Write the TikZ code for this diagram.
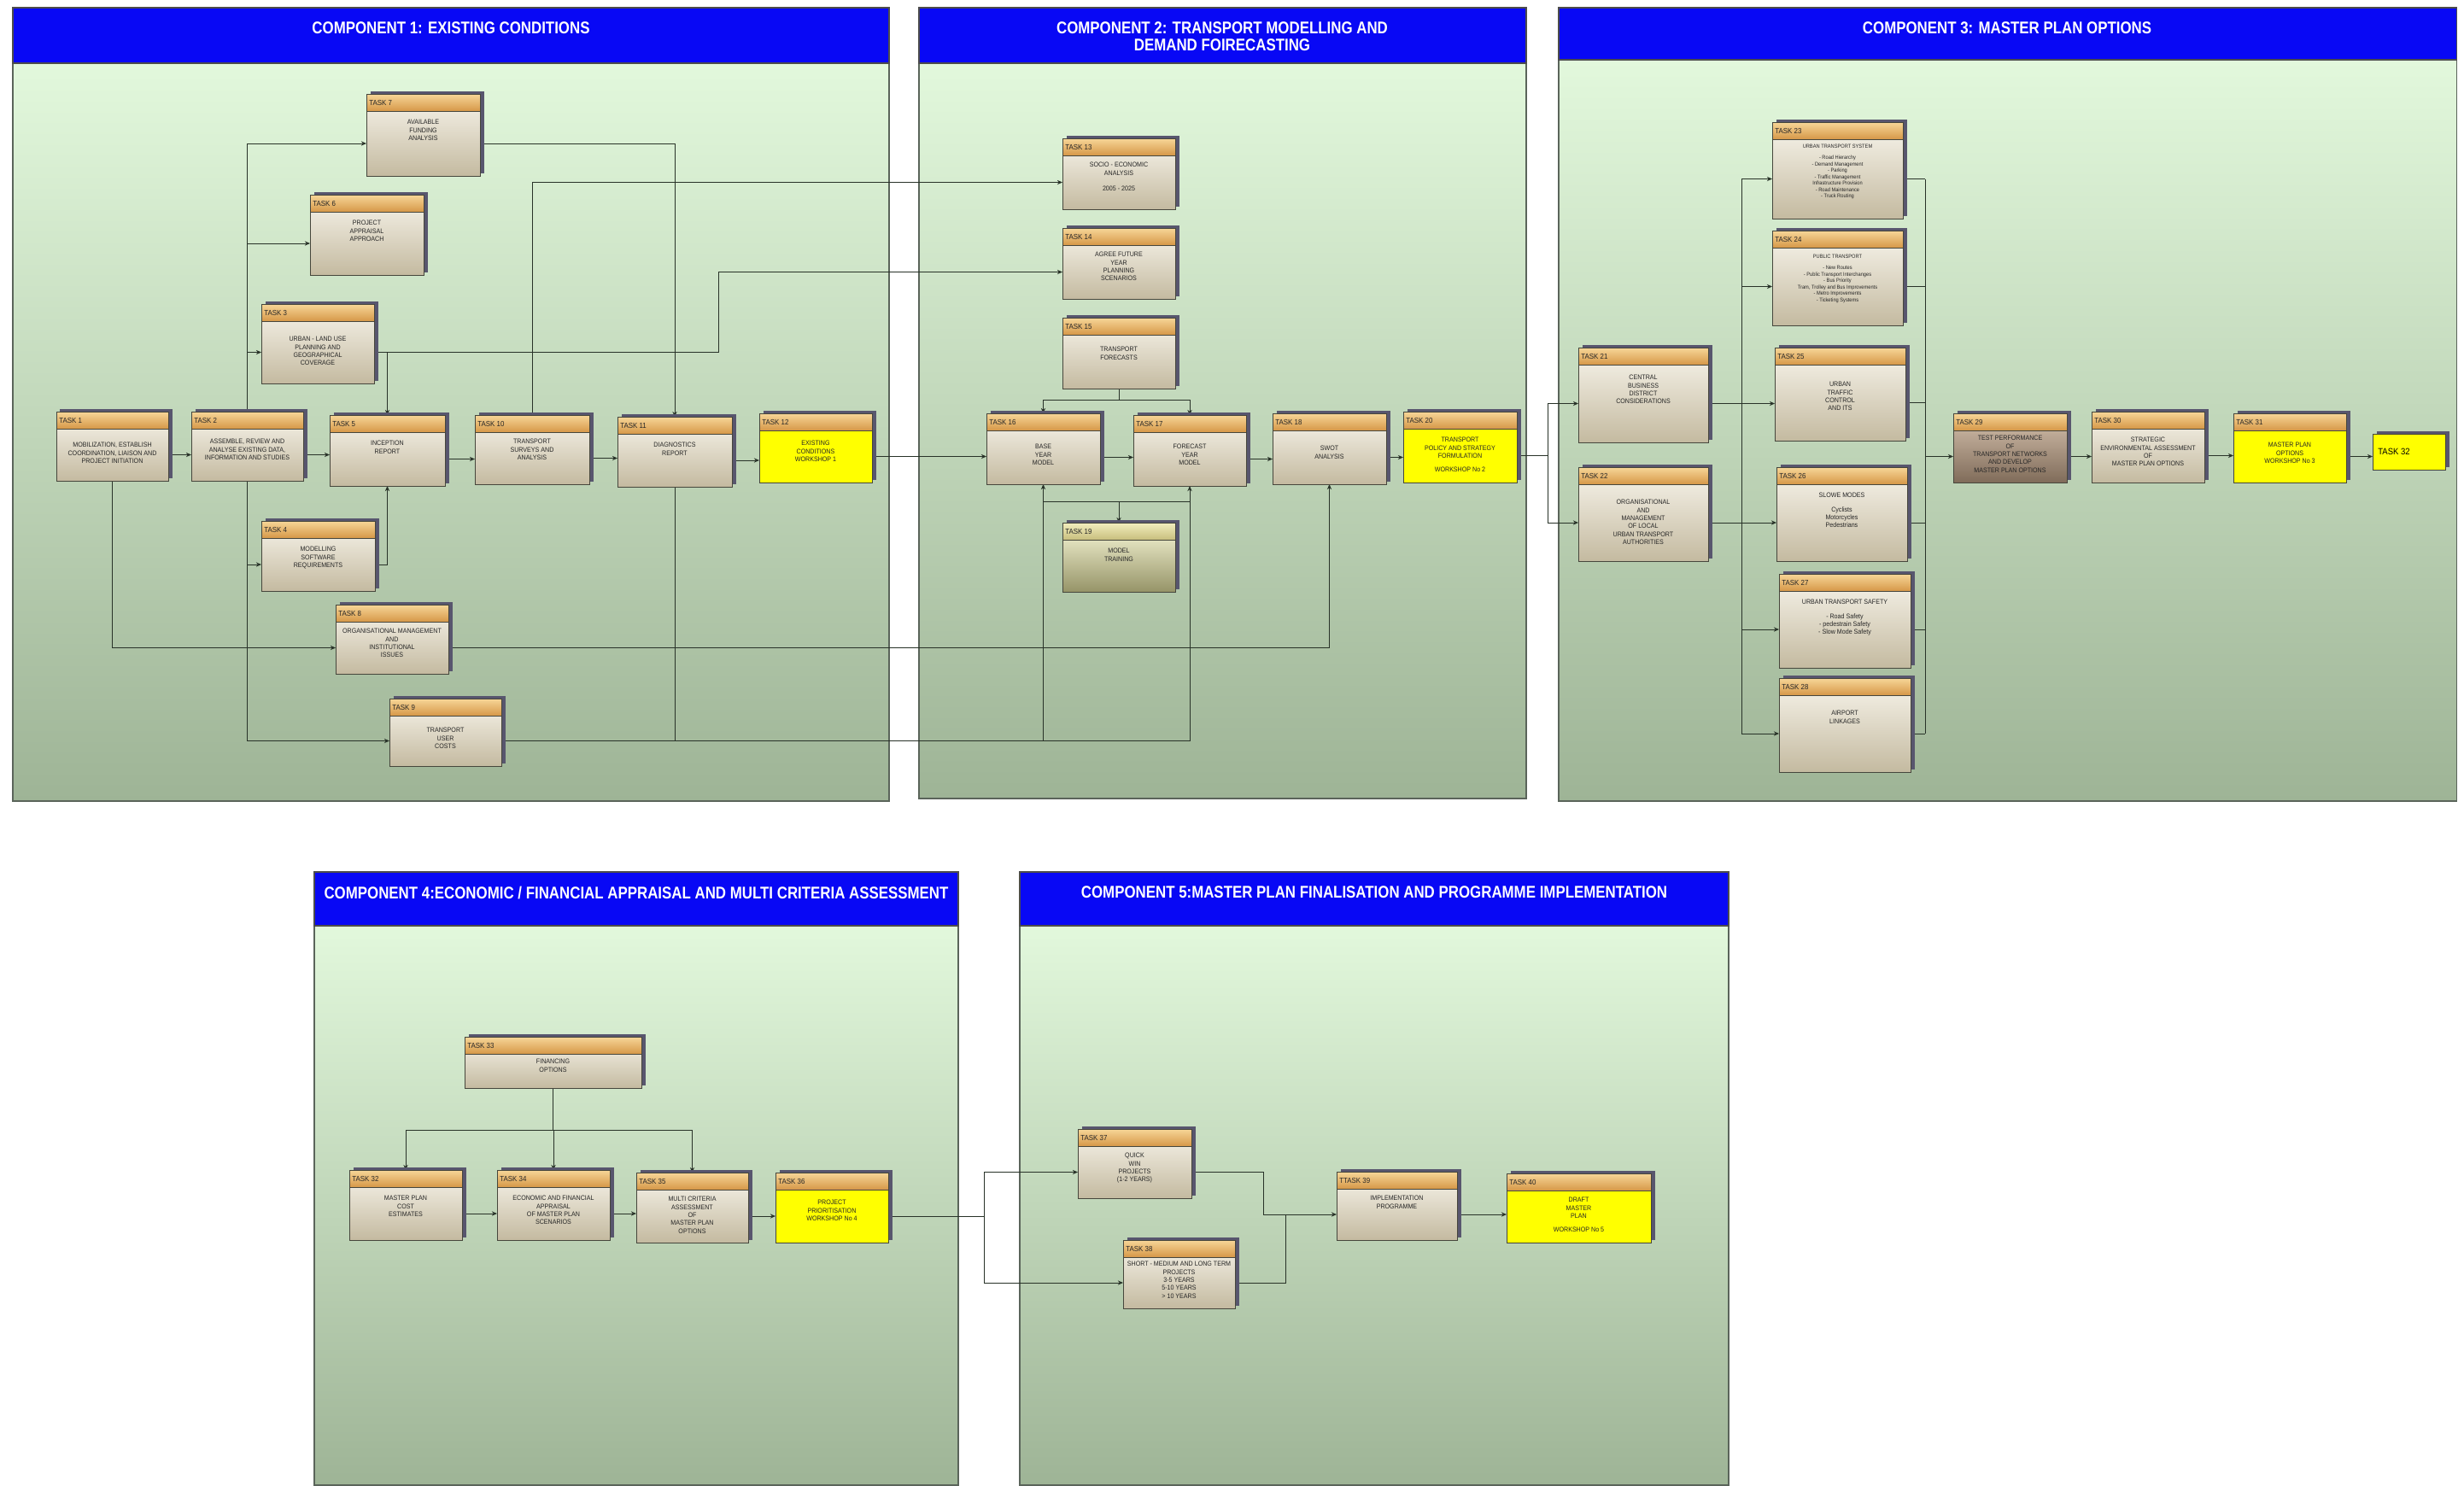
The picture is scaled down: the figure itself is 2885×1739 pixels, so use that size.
\documentclass[tikz,border=0pt]{standalone}
\usepackage{fontspec}
\setmainfont{Liberation Sans}
\newfontfamily\hfont{Liberation Sans}[FakeStretch=0.85]
\newfontfamily\tfont{Liberation Sans}[FakeStretch=0.9]
\usetikzlibrary{shadows,arrows.meta,calc}
\pgfdeclarelayer{panel}
\pgfdeclarelayer{lines}
\pgfsetlayers{panel,lines,main}
\definecolor{hblue}{RGB}{8,8,245}
\definecolor{pantop}{RGB}{226,248,220}
\definecolor{panbot}{RGB}{158,180,150}
\definecolor{pedge}{RGB}{90,100,90}
\definecolor{hdrtop}{RGB}{247,214,152}
\definecolor{hdrbot}{RGB}{214,152,72}
\definecolor{bodtop}{RGB}{248,245,236}
\definecolor{bodbot}{RGB}{196,186,160}
\definecolor{shad}{RGB}{88,86,110}
\definecolor{boxc}{RGB}{70,70,60}
\definecolor{wire}{RGB}{40,50,40}
\definecolor{ylw}{RGB}{255,255,0}
\definecolor{brtop}{RGB}{214,194,174}
\definecolor{brbot}{RGB}{128,108,90}
\definecolor{oltop}{RGB}{250,250,218}
\definecolor{olbot}{RGB}{150,148,104}
\definecolor{olhtop}{RGB}{242,238,190}
\definecolor{olhbot}{RGB}{200,190,125}
\tikzset{
  btop/.store in=\btopc, bbot/.store in=\bbotc,
  htop/.store in=\htopc, hbot/.store in=\hbotc,
  txtfont/.store in=\txtfont,
  btop=bodtop, bbot=bodbot, htop=hdrtop, hbot=hdrbot,
  txtfont={\tfont\fontsize{4.5}{5.3}\selectfont},
  yellowbox/.style={btop=ylw, bbot=ylw},
  brownbox/.style={btop=brtop, bbot=brbot},
  olivebox/.style={btop=oltop, bbot=olbot, htop=olhtop, hbot=olhbot},
  smalltext/.style={txtfont={\tfont\fontsize{3.6}{4.3}\selectfont}},
  boxshadow/.style={general shadow={shadow xshift=0.09cm, shadow yshift=0.07cm, fill=shad}},
  taskbox/.style={inner sep=0pt, outer sep=0pt, boxshadow},
  boxedge/.style={draw=boxc, line width=0.5pt},
  tasktitle/.style={font=\tfont\fontsize{5}{6}\selectfont, inner sep=0pt, text=black!85},
  tasktext/.style={align=center, inner sep=0pt, text=black!85},
  htext/.style={font=\hfont\bfseries\fontsize{11.3}{11.5}\selectfont, text=white, align=center, inner sep=0pt},
  wire/.style={draw=wire, line width=0.55pt},
  arr/.style={wire, -{Stealth[length=3.5pt,width=3pt]}},
  panelbody/.style={top color=pantop, bottom color=panbot, draw=pedge, line width=0.6pt},
  panelhead/.style={fill=hblue, draw=black!70, line width=0.6pt}
}
% #1 opts, #2 name, #3 x1, #4 y1, #5 x2, #6 y2, #7 title, #8 text, #9 text offset
\newcommand\task[9][]{%
  \begin{scope}[#1]
  \node[taskbox, top color=\btopc, bottom color=\bbotc, anchor=north west,
        minimum width={(#5-#3)*0.02cm}, minimum height={(#6-#4)*0.02cm}] (#2) at (#3,#4) {};
  \shade[top color=\htopc, bottom color=\hbotc] (#3,#4) rectangle (#5,#4+20);
  \draw[boxedge] (#3,#4) rectangle (#5,#6);
  \draw[boxedge] (#3,#4+20) -- (#5,#4+20);
  \node[tasktitle, anchor=west] (#2-h) at (#3+3,#4+10.5) {#7};
  \node[tasktext, font=\txtfont, anchor=north] (#2-x) at ({(#3+#5)/2},{#4+20+#9}) {#8};
  \coordinate (#2-w) at (#3,{(#4+20+#6)/2});
  \coordinate (#2-e) at (#5,{(#4+20+#6)/2});
  \end{scope}}
\newcommand\hconn[2]{\draw[arr] (#1-e) -- (#1-e -| #2.west);}
\newcommand\panel[5]{%
  \path[panelbody] (#1,#3) rectangle (#4,#5);
  \path[panelhead] (#1,#2) rectangle (#4,#3);}
\begin{document}
\begin{tikzpicture}[x=0.02cm,y=-0.02cm]
\useasboundingbox (0,0) rectangle (2885,1739);

% ---------- panels ----------
\begin{pgfonlayer}{panel}
\fill[white] (0,0) rectangle (2885,1739);
\panel{15}{9}{74}{1041}{938}
\panel{1076}{9}{74}{1787}{935}
\panel{1825}{9}{70}{2876}{938}
\panel{368}{1021}{1084}{1122}{1739}
\panel{1194}{1021}{1084}{2024}{1739}
\end{pgfonlayer}
\node[htext] (h1) at (528,33) {COMPONENT 1: EXISTING CONDITIONS};
\node[htext] (h2) at (1431,43) {COMPONENT 2: TRANSPORT MODELLING AND\\DEMAND FOIRECASTING};
\node[htext] (h3) at (2350,33) {COMPONENT 3: MASTER PLAN OPTIONS};
\node[htext] (h4) at (745,1045) {COMPONENT 4:ECONOMIC / FINANCIAL APPRAISAL AND MULTI CRITERIA ASSESSMENT};
\node[htext] (h5) at (1609,1045) {COMPONENT 5:MASTER PLAN FINALISATION AND PROGRAMME IMPLEMENTATION};

% ---------- component 1 ----------
\task{t1}{66}{482}{197}{563}{TASK 1}{MOBILIZATION, ESTABLISH\\COORDINATION, LIAISON AND\\PROJECT INITIATION}{16}
\task{t2}{224}{482}{355}{563}{TASK 2}{ASSEMBLE, REVIEW AND\\ANALYSE EXISTING DATA,\\INFORMATION AND STUDIES}{12}
\task{t5}{386}{486}{521}{569}{TASK 5}{INCEPTION\\REPORT}{10}
\task{t10}{556}{486}{690}{567}{TASK 10}{TRANSPORT\\SURVEYS AND\\ANALYSIS}{8}
\task{t11}{723}{488}{857}{570}{TASK 11}{DIAGNOSTICS\\REPORT}{10}
\task[yellowbox]{t12}{889}{484}{1021}{565}{TASK 12}{EXISTING\\CONDITIONS\\WORKSHOP 1}{12}
\task{t7}{429}{110}{562}{206}{TASK 7}{AVAILABLE\\FUNDING\\ANALYSIS}{10}
\task{t6}{363}{228}{496}{322}{TASK 6}{PROJECT\\APPRAISAL\\APPROACH}{10}
\task{t3}{306}{356}{438}{449}{TASK 3}{URBAN - LAND USE\\PLANNING AND\\GEOGRAPHICAL\\COVERAGE}{18}
\task{t4}{306}{610}{439}{692}{TASK 4}{MODELLING\\SOFTWARE\\REQUIREMENTS}{10}
\task{t8}{393}{708}{525}{789}{TASK 8}{ORGANISATIONAL MANAGEMENT\\AND\\INSTITUTIONAL\\ISSUES}{8}
\task{t9}{456}{818}{587}{897}{TASK 9}{TRANSPORT\\USER\\COSTS}{14}

% ---------- component 2 ----------
\task{t13}{1244}{162}{1376}{245}{TASK 13}{SOCIO - ECONOMIC\\ANALYSIS\\[5pt]2005 - 2025}{8}
\task{t14}{1244}{267}{1376}{350}{TASK 14}{AGREE FUTURE\\YEAR\\PLANNING\\SCENARIOS}{8}
\task{t15}{1244}{372}{1376}{455}{TASK 15}{TRANSPORT\\FORECASTS}{14}
\task{t16}{1155}{484}{1288}{567}{TASK 16}{BASE\\YEAR\\MODEL}{16}
\task{t17}{1327}{486}{1459}{569}{TASK 17}{FORECAST\\YEAR\\MODEL}{14}
\task{t18}{1490}{484}{1623}{567}{TASK 18}{SWOT\\ANALYSIS}{18}
\task[yellowbox]{t20}{1643}{482}{1776}{565}{TASK 20}{TRANSPORT\\POLICY AND STRATEGY\\FORMULATION\\[4pt]WORKSHOP No 2}{10}
\task[olivebox]{t19}{1244}{612}{1376}{693}{TASK 19}{MODEL\\TRAINING}{10}

% ---------- component 3 ----------
\task[smalltext]{t23}{2075}{143}{2228}{256}{TASK 23}{URBAN TRANSPORT SYSTEM\\[3pt]- Road Hierarchy\\- Demand Management\\- Parking\\- Traffic Management\\Infrastructure Provision\\- Road Maintenance\\- Truck Routing}{6}
\task[smalltext]{t24}{2075}{270}{2228}{381}{TASK 24}{PUBLIC TRANSPORT\\[3pt]- New Routes\\- Public Transport Interchanges\\- Bus Priority\\Tram, Trolley and Bus Improvements\\- Metro Improvements\\- Ticketing Systems}{8}
\task{t21}{1848}{407}{2000}{518}{TASK 21}{CENTRAL\\BUSINESS\\DISTRICT\\CONSIDERATIONS}{12}
\task{t25}{2078}{407}{2231}{516}{TASK 25}{URBAN\\TRAFFIC\\CONTROL\\AND ITS}{20}
\task{t22}{1848}{547}{2000}{657}{TASK 22}{ORGANISATIONAL\\AND\\MANAGEMENT\\OF LOCAL\\URBAN TRANSPORT\\AUTHORITIES}{18}
\task{t26}{2080}{547}{2233}{657}{TASK 26}{SLOWE MODES\\[4pt]Cyclists\\Motorcycles\\Pedestrians}{10}
\task{t27}{2083}{672}{2237}{782}{TASK 27}{URBAN TRANSPORT SAFETY\\[4pt]- Road Safety\\- pedestrain Safety\\- Slow Mode Safety}{10}
\task{t28}{2083}{794}{2237}{904}{TASK 28}{AIRPORT\\LINKAGES}{18}
\task[brownbox]{t29}{2287}{484}{2420}{565}{TASK 29}{TEST PERFORMANCE\\OF\\TRANSPORT NETWORKS\\AND DEVELOP\\MASTER PLAN OPTIONS}{6}
\task{t30}{2449}{482}{2581}{565}{TASK 30}{STRATEGIC\\ENVIRONMENTAL ASSESSMENT\\OF\\MASTER PLAN OPTIONS}{10}
\task[yellowbox]{t31}{2615}{484}{2747}{565}{TASK 31}{MASTER PLAN\\OPTIONS\\WORKSHOP No 3}{14}
\node[taskbox, fill=ylw, draw=boxc, line width=0.5pt, anchor=north west,
      minimum width=1.7cm, minimum height=0.84cm] (t32) at (2778,508) {};
\node[font=\tfont\fontsize{6}{7}\selectfont, anchor=west, inner sep=0pt] (t32-t) at (2784,529) {TASK 32};

% ---------- component 4 ----------
\task{t33}{544}{1214}{751}{1274}{TASK 33}{FINANCING\\OPTIONS}{6}
\task{t32c}{409}{1370}{541}{1452}{TASK 32}{MASTER PLAN\\COST\\ESTIMATES}{10}
\task{t34}{582}{1370}{714}{1452}{TASK 34}{ECONOMIC AND FINANCIAL\\APPRAISAL\\OF MASTER PLAN\\SCENARIOS}{10}
\task{t35}{745}{1373}{876}{1455}{TASK 35}{MULTI CRITERIA\\ASSESSMENT\\OF\\MASTER PLAN\\OPTIONS}{8}
\task[yellowbox]{t36}{908}{1373}{1040}{1455}{TASK 36}{PROJECT\\PRIORITISATION\\WORKSHOP No 4}{12}

% ---------- component 5 ----------
\task{t37}{1262}{1322}{1395}{1403}{TASK 37}{QUICK\\WIN\\PROJECTS\\(1-2 YEARS)}{8}
\task{t38}{1315}{1452}{1446}{1532}{TASK 38}{SHORT - MEDIUM AND LONG TERM\\PROJECTS\\3-5 YEARS\\5-10 YEARS\\> 10 YEARS}{5}
\task{t39}{1565}{1372}{1706}{1452}{TTASK 39}{IMPLEMENTATION\\PROGRAMME}{8}
\task[yellowbox]{t40}{1764}{1374}{1933}{1455}{TASK 40}{DRAFT\\MASTER\\PLAN\\[4pt]WORKSHOP No 5}{8}

% ---------- junction coordinates ----------
\coordinate (j3) at (841,0);
\coordinate (j15) at (1310,468);
\coordinate (j19) at (1310,587);
\coordinate (j20) at (1812,0);
\coordinate (b3) at (2039,0);
\coordinate (b4) at (2254,0);
\coordinate (j33) at (647.5,1323);
\coordinate (j36) at (1152,0);
\coordinate (j37) at (1479,0);
\coordinate (j38) at (1505,0);

% ---------- connectors ----------
\begin{pgfonlayer}{lines}
% component 1
\hconn{t1}{t2}
\hconn{t2}{t5}
\hconn{t5}{t10}
\hconn{t10}{t11}
\hconn{t11}{t12}
\draw[arr] (t2.north) |- (t7-w);
\draw[arr] (t2.north) |- (t6-w);
\draw[arr] (t2.north) |- (t3-w);
\draw[arr] (t2.south) |- (t4-w);
\draw[arr] (t2.south) |- (t9-w);
\draw[arr] (t7-e) -| (t11.north);
\draw[arr] (t3-e) -| (t5.north);
\draw[arr] (t3-e) -| (j3 |- t14-w) -- (t14-w);
\draw[arr] (t10.north) |- (t13-w);
\draw[arr] (t4-e) -| (t5.south);
\draw[arr] (t1.south) |- (t8-w);
\draw[arr] (t8-e) -| (t18.south);
\draw[arr] (t9-e) -| (t16.south);
\draw[arr] (t9-e) -| (t17.south);
\draw[wire] (t11.south) -- (t11.south |- t9-e);
\hconn{t12}{t16}
% component 2
\draw[wire] (t15.south) -- (j15);
\draw[arr] (j15) -| (t16.north);
\draw[arr] (j15) -| (t17.north);
\hconn{t16}{t17}
\hconn{t17}{t18}
\hconn{t18}{t20}
\draw[wire] (t16.south |- j19) -- (t17.south |- j19);
\draw[arr] (j19) -- (t19.north);
\draw[arr] (t20-e) -| (j20 |- t21-w) -- (t21-w);
\draw[arr] (t20-e) -| (j20 |- t22-w) -- (t22-w);
% component 3
\hconn{t21}{t25}
\hconn{t22}{t26}
\draw[wire] (b3 |- t23-w) -- (b3 |- t28-w);
\foreach \t in {t23,t24,t27,t28}{\draw[arr] (b3 |- \t-w) -- (\t-w);}
\foreach \t in {t23,t24,t25,t26,t27,t28}{\draw[wire] (\t-e) -- (b4 |- \t-e);}
\draw[wire] (b4 |- t23-e) -- (b4 |- t28-e);
\draw[arr] (b4 |- t29-w) -- (t29-w);
\hconn{t29}{t30}
\hconn{t30}{t31}
\draw[arr] (t31-e) -- (t31-e -| t32.west);
% component 4
\draw[wire] (t33.south) -- (j33);
\draw[arr] (j33) -| (t32c.north);
\draw[arr] (j33) -| (t34.north);
\draw[arr] (j33) -| (t35.north);
\hconn{t32c}{t34}
\hconn{t34}{t35}
\hconn{t35}{t36}
\draw[arr] (t36-e) -| (j36 |- t37-w) -- (t37-w);
\draw[arr] (t36-e) -| (j36 |- t38-w) -- (t38-w);
% component 5
\draw[arr] (t37-e) -| (j37 |- t39-w) -- (t39-w);
\draw[wire] (t38-e) -| (j38 |- t39-w);
\hconn{t39}{t40}
\end{pgfonlayer}
\end{tikzpicture}
\end{document}
